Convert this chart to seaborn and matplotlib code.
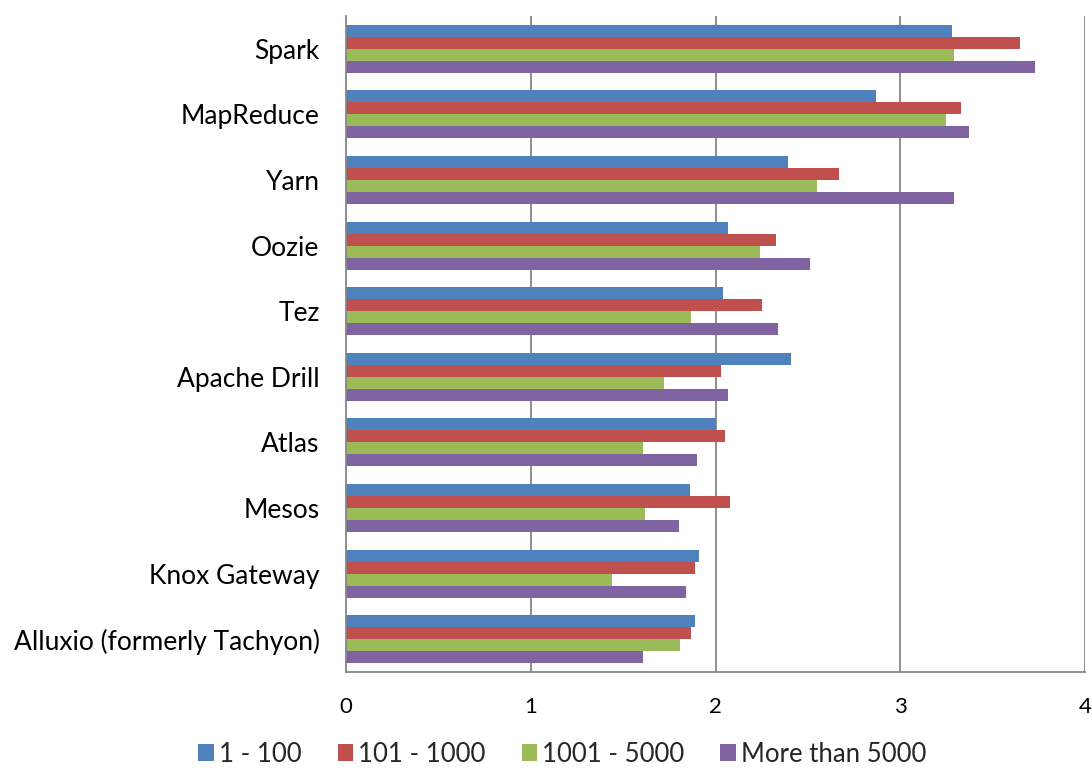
import matplotlib
matplotlib.use("Agg")
import matplotlib.pyplot as plt
import seaborn as sns
import pandas as pd
import numpy as np

categories = ["Spark", "MapReduce", "Yarn", "Oozie", "Tez", "Apache Drill",
              "Atlas", "Mesos", "Knox Gateway", "Alluxio (formerly Tachyon)"]
series_names = ["1 - 100", "101 - 1000", "1001 - 5000", "More than 5000"]
s_1_100 = [3.28, 2.87, 2.39, 2.07, 2.04, 2.41, 2.00, 1.86, 1.91, 1.89]
s_101_1000 = [3.65, 3.33, 2.67, 2.33, 2.25, 2.03, 2.05, 2.08, 1.89, 1.87]
s_1001_5000 = [3.29, 3.25, 2.55, 2.24, 1.87, 1.72, 1.61, 1.62, 1.44, 1.81]
s_more_5000 = [3.73, 3.37, 3.29, 2.51, 2.34, 2.07, 1.90, 1.80, 1.84, 1.61]
x_ticks = [0, 1, 2, 3, 4]

colors = ["#4F81BD", "#C0504D", "#9BBB59", "#8064A2"]

rows = []
for name, vals in zip(series_names, [s_1_100, s_101_1000, s_1001_5000, s_more_5000]):
    for c, v in zip(categories, vals):
        rows.append({"category": c, "series": name, "value": v})
df = pd.DataFrame(rows)

sns.set_style("white")
plt.rcParams["font.family"] = ["Lato", "DejaVu Sans"]

fig = plt.figure(figsize=(10.92, 7.72), dpi=100)
ax = fig.add_axes([346/1092, 1-672/772, (1085-346)/1092, (672-16)/772])

sns.barplot(data=df, y="category", x="value", hue="series", order=categories,
            hue_order=series_names, palette=colors, orient="h", width=0.73,
            ax=ax, saturation=1, edgecolor="none", linewidth=0)

ax.set_xlim(0, 4)
ax.set_ylim(len(categories) - 0.5, -0.5)
ax.set_xticks(x_ticks)
ax.set_xticklabels([str(t) for t in x_ticks], fontsize=16)
ax.set_xlabel("")
ax.set_ylabel("")
ax.tick_params(axis="y", which="major", length=0, labelsize=19, pad=19, labelcolor="#000000")
ax.set_yticks(np.arange(-0.5, len(categories), 1.0), minor=True)
ax.tick_params(axis="y", which="minor", length=6, color="#868686", width=1.2, direction="out")
ax.tick_params(axis="x", which="major", length=6, color="#868686", width=1.2, direction="out", pad=12,
               labelcolor="#000000")

for t in x_ticks[1:]:
    ax.axvline(t, color="#868686", lw=1.3, zorder=0)
for s in ["top", "right"]:
    ax.spines[s].set_visible(False)
for s in ["left", "bottom"]:
    ax.spines[s].set_color("#868686")
    ax.spines[s].set_linewidth(1.3)

handles, labels = ax.get_legend_handles_labels()
ax.legend_.remove()
fig.legend(handles, labels, loc="center", bbox_to_anchor=(0.515, 1-754/772), ncol=4,
           frameon=False, fontsize=18.5, handlelength=0.6, handleheight=0.6,
           handletextpad=0.2, columnspacing=1.4)

fig.savefig("out.png", dpi=100)
